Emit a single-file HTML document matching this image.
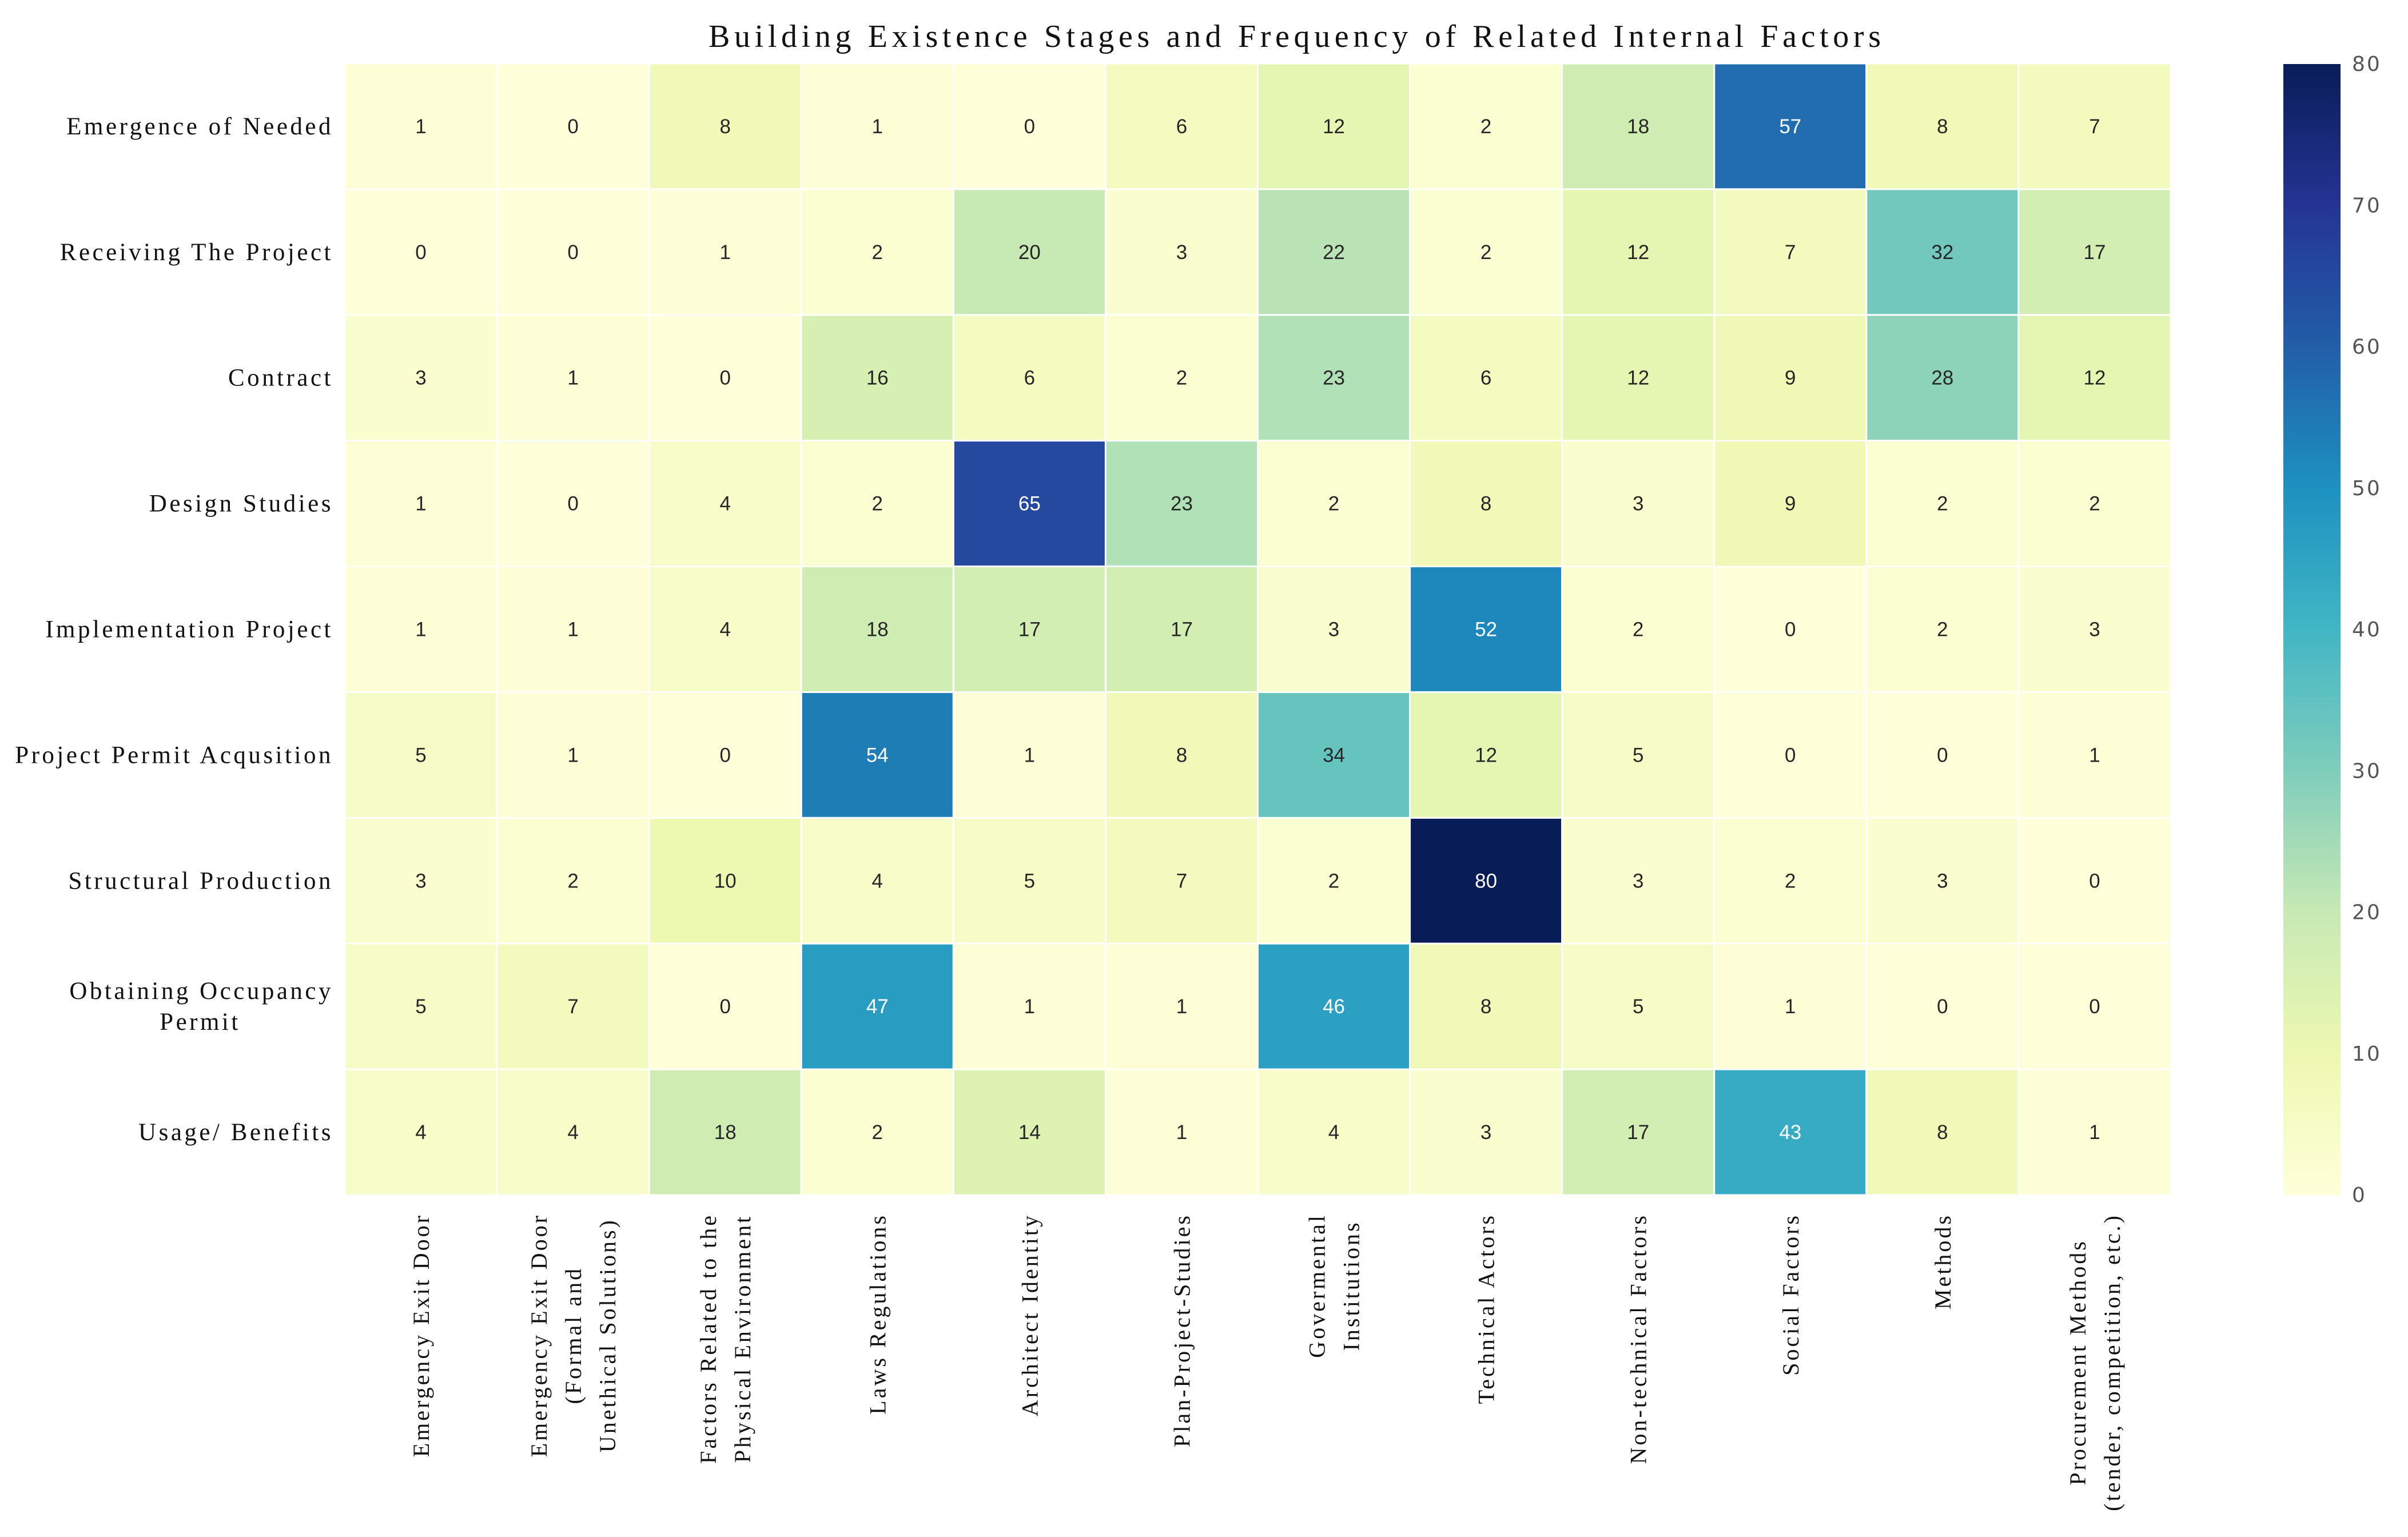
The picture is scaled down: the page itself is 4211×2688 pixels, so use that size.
<!DOCTYPE html>
<html><head><meta charset="utf-8"><style>
html,body{margin:0;padding:0;background:#fff;}
svg{display:block;}
</style></head><body>
<svg id="chart" width="4211" height="2688" viewBox="0 0 4211 2688" xmlns="http://www.w3.org/2000/svg">
<defs>
<linearGradient id="cbgrad" x1="0" y1="1" x2="0" y2="0">
<stop offset="0" stop-color="#ffffd9"/><stop offset="0.125" stop-color="#edf8b1"/><stop offset="0.25" stop-color="#c7e9b4"/><stop offset="0.375" stop-color="#7fcdbb"/><stop offset="0.5" stop-color="#41b6c4"/><stop offset="0.625" stop-color="#1d91c0"/><stop offset="0.75" stop-color="#225ea8"/><stop offset="0.875" stop-color="#253494"/><stop offset="1" stop-color="#081d58"/>
</linearGradient>
</defs>
<text x="2264" y="82" text-anchor="middle" font-family="Liberation Serif, serif" font-size="56" textLength="2050" fill="#111">Building Existence Stages and Frequency of Related Internal Factors</text>
<g id="cells"></g>
<g id="rowlabels"></g>
<g id="collabels"></g>
<rect x="3993" y="112" width="100" height="1978" fill="url(#cbgrad)"/>
<g id="cbticks"></g>
</svg>
<script>
const rows = ["Emergence of Needed","Receiving The Project","Contract","Design Studies","Implementation Project","Project Permit Acqusition","Structural Production","Obtaining Occupancy|Permit","Usage/ Benefits"];
const cols = ["Emergency Exit Door","Emergency Exit Door|(Formal and|Unethical Solutions)","Factors Related to the|Physical Environment","Laws Regulations","Architect Identity","Plan-Project-Studies","Govermental|Institutions","Technical Actors","Non-technical Factors","Social Factors","Methods","Procurement Methods|(tender, competition, etc.)"];
const values = [
[1,0,8,1,0,6,12,2,18,57,8,7],
[0,0,1,2,20,3,22,2,12,7,32,17],
[3,1,0,16,6,2,23,6,12,9,28,12],
[1,0,4,2,65,23,2,8,3,9,2,2],
[1,1,4,18,17,17,3,52,2,0,2,3],
[5,1,0,54,1,8,34,12,5,0,0,1],
[3,2,10,4,5,7,2,80,3,2,3,0],
[5,7,0,47,1,1,46,8,5,1,0,0],
[4,4,18,2,14,1,4,3,17,43,8,1]
];
const cbTicks = [0,10,20,30,40,50,60,70,80];
const vmin = 0, vmax = 80;

const NS = "http://www.w3.org/2000/svg";
const X0 = 603, X1 = 3796, Y0 = 111, Y1 = 2090;
const cw = (X1 - X0) / cols.length, ch = (Y1 - Y0) / rows.length;
const xPos = j => X0 + j * cw;
const yPos = i => Y0 + i * ch;
const stops = ["#ffffd9","#edf8b1","#c7e9b4","#7fcdbb","#41b6c4","#1d91c0","#225ea8","#253494","#081d58"];
function hex(h){return [parseInt(h.substr(1,2),16),parseInt(h.substr(3,2),16),parseInt(h.substr(5,2),16)];}
function color(v){
  let t = Math.max(0, Math.min(1, (v - vmin) / (vmax - vmin))) * 8;
  let k = Math.min(7, Math.floor(t)); let f = t - k;
  const a = hex(stops[k]), b = hex(stops[k+1]);
  return "rgb(" + a.map((c,i)=>Math.round(c + (b[i]-c)*f)).join(",") + ")";
}
function mk(tag, attrs, parent){const e=document.createElementNS(NS,tag);for(const k in attrs)e.setAttribute(k,attrs[k]);parent.appendChild(e);return e;}
const gc = document.getElementById("cells");
values.forEach((row,i)=>row.forEach((v,j)=>{
  const r = mk("rect",{x:xPos(j),y:yPos(i),width:cw,height:ch,fill:color(v),stroke:"#fff","stroke-width":3},gc);
  
  
  const t = mk("text",{x:xPos(j)+cw/2,y:yPos(i)+ch/2+12,"text-anchor":"middle","font-family":"Liberation Sans, sans-serif","font-size":35,fill:v>40?"#fff":"#262626"},gc);
  t.textContent = v;
  
  
}));
const gr = document.getElementById("rowlabels");
rows.forEach((lab,i)=>{
  const lines = lab.split("|");
  const t = mk("text",{x:583,"text-anchor":"end","font-family":"Liberation Serif, serif","font-size":43,fill:"#111","letter-spacing":4.5},gr);
  
  
  const cy = yPos(i)+ch/2+14 - (lines.length-1)*27;
  lines.forEach((l,k)=>{const s=mk("tspan",{x:583,y:cy+k*54},t);if(lines.length>1&&k==1){s.setAttribute("text-anchor","middle");s.setAttribute("x",350);}s.textContent=l;});
});
const gl = document.getElementById("collabels");
cols.forEach((lab,j)=>{
  const lines = lab.split("|");
  const cx = xPos(j)+cw/2;
  const g = mk("g",{},gl);
  
  
  const texts = [];
  let maxLen = 0;
  lines.forEach((l,k)=>{
    const x = cx + 14 + (k - (lines.length-1)/2)*60;
    const t = mk("text",{x:x,y:0,"text-anchor":"middle","font-family":"Liberation Serif, serif","font-size":40,fill:"#111","letter-spacing":4},g);
    t.textContent = l;
    const len = t.getComputedTextLength();
    if (len > maxLen) maxLen = len;
    texts.push([t,x]);
  });
  const yc = 2122 + maxLen/2;
  texts.forEach(([t,x])=>{t.setAttribute("y", yc); t.setAttribute("transform","rotate(-90 "+x+" "+yc+")");});
});
const gt = document.getElementById("cbticks");
cbTicks.forEach(v=>{
  const y = Y1 - (v - vmin)/(vmax - vmin)*(Y1 - 112);
  const t = mk("text",{x:4113,y:y+12,"font-family":"DejaVu Sans, sans-serif","font-size":36,fill:"#555","letter-spacing":3},gt);
  t.textContent = v;
  
  
});
</script>
</body></html>
